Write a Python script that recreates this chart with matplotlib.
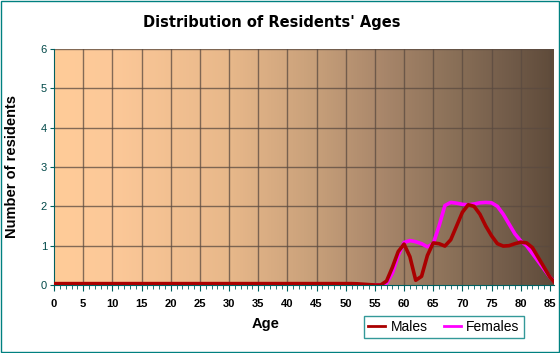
import numpy as np
import matplotlib
matplotlib.use("Agg")
import matplotlib.pyplot as plt
from matplotlib.colors import LinearSegmentedColormap
from matplotlib.lines import Line2D

plt.rcParams['font.family'] = ['Liberation Sans', 'DejaVu Sans']

ages = list(range(0, 87))

males_tail = {
    52: 0.03, 53: 0.02, 54: 0.01, 55: 0.0, 56: 0.0, 57: 0.1, 58: 0.45,
    59: 0.85, 60: 1.04, 61: 0.72, 62: 0.12, 63: 0.22, 64: 0.75, 65: 1.07,
    66: 1.05, 67: 0.99, 68: 1.15, 69: 1.5, 70: 1.85, 71: 2.04, 72: 2.0,
    73: 1.8, 74: 1.5, 75: 1.25, 76: 1.05, 77: 0.99, 78: 1.0, 79: 1.05,
    80: 1.09, 81: 1.07, 82: 0.95, 83: 0.7, 84: 0.45, 85: 0.2, 86: 0.03,
}
females_tail = {
    57: 0.05, 58: 0.3, 59: 0.75, 60: 1.08, 61: 1.13, 62: 1.1, 63: 1.05,
    64: 0.97, 65: 1.05, 66: 1.5, 67: 2.02, 68: 2.1, 69: 2.08, 70: 2.05,
    71: 2.04, 72: 2.06, 73: 2.09, 74: 2.1, 75: 2.09, 76: 2.0, 77: 1.8,
    78: 1.55, 79: 1.3, 80: 1.12, 81: 1.0, 82: 0.8, 83: 0.6, 84: 0.4,
    85: 0.2, 86: 0.05,
}
males = [males_tail.get(a, 0.035) for a in ages]
females = [females_tail.get(a, 0.0) for a in ages]

x_ticks = list(range(0, 90, 5))
y_ticks = list(range(0, 7))

fig = plt.figure(figsize=(5.6, 3.53), dpi=100)
fig.patch.set_facecolor('white')
ax = fig.add_axes([54 / 560, 1 - 285 / 353, 500 / 560, 236 / 353])

xmax = 85.7
ymax = 6

# background gradient of the plot area
bg = LinearSegmentedColormap.from_list('bg', [
    (0.0, '#FFCC99'), (0.12, '#FCC898'), (0.35, '#E8B88A'),
    (0.52, '#C8A07A'), (0.66, '#A8866A'), (0.8, '#8A7058'),
    (0.92, '#705A48'), (1.0, '#5F4B3A')])
ax.imshow(np.linspace(0, 1, 256).reshape(1, -1), cmap=bg, aspect='auto',
          extent=[0, xmax, 0, ymax], zorder=0)

for xv in x_ticks[1:]:
    ax.axvline(xv, color='#5a4a40', lw=1, alpha=0.75, zorder=1)
for yv in y_ticks[1:]:
    ax.axhline(yv, color='#5a4a40', lw=1, alpha=0.75, zorder=1)

ax.plot(ages, females, color='#FF00FF', lw=2.6, zorder=3,
        solid_capstyle='round', solid_joinstyle='round')
ax.plot(ages, males, color='#AA0000', lw=2.6, zorder=4,
        solid_capstyle='round', solid_joinstyle='round')

ax.set_xlim(0, xmax)
ax.set_ylim(0, ymax)
ax.set_xticks(x_ticks)
ax.set_xticks(range(0, 86), minor=True)
ax.set_yticks(y_ticks)
ax.tick_params(axis='x', which='major', length=4, color='#006060',
               labelsize=8, pad=6)
ax.tick_params(axis='x', which='minor', length=3, color='#006060')
ax.tick_params(axis='y', length=3, color='#006060', labelsize=8,
               labelcolor='#004848', pad=2)
for lbl in ax.get_xticklabels():
    lbl.set_fontweight('bold')
for side in ['top', 'right']:
    ax.spines[side].set_visible(False)
for side in ['left', 'bottom']:
    ax.spines[side].set_color('#006060')

fig.text(272 / 560, 1 - 23 / 353, "Distribution of Residents' Ages",
         ha='center', va='center', fontsize=10.5, fontweight='bold',
         family='DejaVu Sans')
fig.text(12 / 560, 1 - 167 / 353, 'Number of residents', rotation=90,
         ha='center', va='center', fontsize=10.5, fontweight='bold')
fig.text(266 / 560, 1 - 324 / 353, 'Age', ha='center', va='center',
         fontsize=10.5, fontweight='bold')

handles = [Line2D([0], [0], color='#AA0000', lw=2),
           Line2D([0], [0], color='#FF00FF', lw=2)]
leg = fig.legend(handles, ['Males', 'Females'], loc='center',
                 bbox_to_anchor=(444 / 560, 1 - 327 / 353), ncol=2,
                 frameon=True, fancybox=False, fontsize=10,
                 handlelength=1.2, handletextpad=0.4, columnspacing=1.2,
                 borderpad=0.3)
leg.get_frame().set_edgecolor('#008080')
leg.get_frame().set_linewidth(1)

# thin teal border around the picture
fig.patches.append(plt.Rectangle((0.001, 0.002), 0.997, 0.996,
                                 transform=fig.transFigure, fill=False,
                                 edgecolor='#008080', lw=1))

fig.savefig('out.png', dpi=100)
